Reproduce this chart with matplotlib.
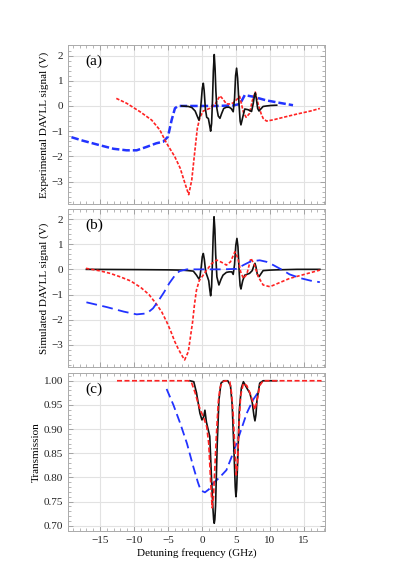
import numpy as np
import matplotlib.pyplot as plt
from matplotlib.ticker import MultipleLocator, AutoMinorLocator

plt.rcParams['font.family'] = ['Liberation Serif', 'DejaVu Serif']
plt.rcParams['axes.unicode_minus'] = True

# ---- panel (a): experimental DAVLL signal ----
a_black_x = [-3.0, -2.0, -1.5, -1.0, -0.7, -0.45, -0.3, -0.1, 0.05, 0.2, 0.33, 0.5, 0.7, 0.95,
             1.15, 1.28, 1.42, 1.55, 1.68, 1.81, 1.93, 2.05, 2.2, 2.4, 2.65, 2.9, 3.2, 3.6, 4.0,
             4.3, 4.6, 4.8, 4.95, 5.1, 5.25, 5.45, 5.62, 5.74, 6.0, 6.3, 6.8, 7.3, 7.55, 7.72,
             7.85, 8.0, 8.2, 8.4, 9.0, 9.5, 10.2, 11.0]
a_black_y = [0.0, -0.02, -0.06, -0.2, -0.4, -0.56, -0.4, 0.2, 0.7, 0.9, 0.6, -0.1, -0.45, -0.5,
             -0.8, -1.0, -0.7, 0.2, 1.4, 2.04, 1.5, 0.6, -0.1, -0.4, -0.49, -0.3, -0.1, -0.05, -0.05,
             -0.1, -0.23, 0.3, 1.2, 1.5, 1.1, 0.1, -0.6, -0.75, -0.45, -0.12, -0.15, -0.22, 0.1, 0.4,
             0.52, 0.3, -0.1, -0.2, -0.02, 0.0, 0.02, 0.03]
a_red_x = [-12.6, -11.1, -9.1, -7.4, -6.2, -5.2, -4.0, -3.2, -2.5, -1.95, -1.5, -1.03, -0.68, -0.3,
           0.2, 1.2, 2.0, 2.65, 3.1, 3.6, 4.1, 4.6, 5.1, 5.55, 6.1, 6.5, 7.0, 7.4, 7.85, 8.3,
           8.7, 9.0, 9.5, 10.5, 12.0, 14.0, 16.0, 17.35]
a_red_y = [0.30, 0.11, -0.23, -0.56, -0.95, -1.48, -2.01, -2.47, -3.07, -3.52, -2.94, -1.75, -0.89, -0.45,
           -0.2, -0.09, 0.1, 0.4, 0.27, 0.08, 0.08, 0.12, 0.25, 0.38, -0.25, -0.45, -0.3, 0.2, 0.55, 0.04,
           -0.3, -0.49, -0.6, -0.55, -0.45, -0.32, -0.2, -0.1]
a_blue_x = [-19.2, -17.5, -15.0, -13.0, -11.1, -9.6, -8.1, -6.7, -5.7, -5.0, -4.46, -3.97, -3.5,
            -2.0, 0.0, 2.0, 4.6, 5.6, 6.3, 7.5, 9.5, 11.5, 13.4]
a_blue_y = [-1.24, -1.38, -1.56, -1.7, -1.76, -1.76, -1.62, -1.48, -1.42, -1.22, -0.56, -0.09, 0.0,
            0.0, 0.0, 0.0, 0.02, 0.08, 0.43, 0.37, 0.22, 0.12, 0.03]

# ---- panel (b): simulated DAVLL signal ----
b_black_x = [-17.0, -10.0, -5.0, -3.0, -2.0, -1.27, -0.8, -0.45, -0.3, -0.1, 0.05, 0.2, 0.35, 0.55,
             0.8, 1.0, 1.15, 1.28, 1.42, 1.52, 1.65, 1.78, 1.9, 2.02, 2.2, 2.5, 2.8, 3.1, 3.6,
             4.0, 4.4, 4.6, 4.8, 4.98, 5.15, 5.3, 5.5, 5.62, 5.74, 6.0, 6.3, 7.0, 7.4, 7.65,
             7.8, 7.95, 8.15, 8.4, 9.0, 10.0, 11.0, 14.0, 17.35]
b_black_y = [0.0, -0.01, -0.02, -0.03, -0.05, -0.07, -0.23, -0.38, -0.3, 0.1, 0.5, 0.63, 0.4, -0.1,
             -0.29, -0.45, -0.8, -1.05, -0.7, 0.1, 1.3, 2.09, 1.6, 0.6, -0.3, -0.62, -0.4, -0.23, -0.12,
             -0.1, -0.1, -0.2, 0.2, 0.95, 1.23, 0.9, -0.2, -0.65, -0.78, -0.45, -0.23, -0.16, -0.05, 0.15,
             0.24, 0.1, -0.2, -0.29, -0.05, -0.03, -0.02, 0.0, 0.0]
b_red_x = [-17.06, -15.0, -13.5, -12.0, -10.5, -9.0, -7.8, -6.7, -5.9, -5.2, -4.6, -4.0, -3.5, -3.0,
           -2.55, -2.0, -1.7, -1.37, -1.1, -0.8, -0.4, 0.0, 0.7, 1.4, 2.16, 2.9, 3.6, 4.2, 4.85,
           5.3, 5.7, 6.1, 6.6, 7.2, 7.7, 8.3, 9.0, 10.0, 11.5, 12.9, 14.4, 16.0, 17.35]
b_red_y = [0.04, -0.06, -0.16, -0.3, -0.46, -0.72, -1.0, -1.38, -1.7, -2.08, -2.45, -2.87, -3.15, -3.4,
           -3.6, -3.27, -2.7, -2.08, -1.4, -0.82, -0.45, -0.3, -0.03, 0.22, 0.37, 0.28, 0.17, 0.3, 0.7,
           0.44, -0.1, -0.36, -0.2, 0.44, 0.2, -0.3, -0.62, -0.69, -0.52, -0.36, -0.25, -0.13, -0.03]
b_blue_x = [-17.0, -14.0, -11.5, -9.6, -8.1, -7.2, -6.4, -5.6, -4.8, -4.0, -3.3, -2.2, 0.0, 3.0,
            5.1, 6.1, 7.2, 8.5, 9.5, 10.5, 11.8, 12.9, 14.5, 16.0, 17.35]
b_blue_y = [-1.31, -1.5, -1.68, -1.79, -1.75, -1.55, -1.25, -0.92, -0.55, -0.25, -0.07, 0.0, 0.0, 0.0,
            0.02, 0.17, 0.32, 0.36, 0.3, 0.17, -0.02, -0.2, -0.35, -0.45, -0.51]

# ---- panel (c): transmission ----
c_black_x = [-1.76, -1.2, -0.8, -0.5, -0.3, 0.0, 0.25, 0.44, 0.65, 0.93, 1.15, 1.4, 1.6, 1.72,
             1.81, 1.9, 2.0, 2.25, 2.5, 2.8, 3.2, 3.8, 4.2, 4.45, 4.7, 4.9, 5.0, 5.1, 5.25, 5.5,
             5.8, 6.1, 6.6, 7.06, 7.4, 7.65, 7.8, 7.95, 8.1, 8.5, 9.0, 11.0]
c_black_y = [1.0, 0.998, 0.975, 0.95, 0.933, 0.919, 0.925, 0.939, 0.915, 0.898, 0.885, 0.8, 0.74, 0.713,
             0.705, 0.713, 0.74, 0.87, 0.96, 0.995, 1.0, 1.0, 0.99, 0.95, 0.86, 0.78, 0.76, 0.775, 0.83, 0.94,
             0.985, 0.998, 0.985, 0.974, 0.955, 0.928, 0.917, 0.93, 0.96, 0.995, 1.0, 1.0]
c_red_x = [-12.5, -5.0, -2.0, -1.5, -1.0, -0.6, -0.2, 0.2, 0.7, 1.0, 1.25, 1.5, 1.7, 1.9,
           2.1, 2.4, 2.65, 3.0, 3.5, 4.1, 4.35, 4.6, 4.85, 5.05, 5.25, 5.45, 5.7, 6.1, 6.6, 7.06,
           7.4, 7.8, 8.2, 8.5, 9.0, 12.0, 17.6]
c_red_y = [1.0, 1.0, 1.0, 0.995, 0.975, 0.955, 0.938, 0.926, 0.905, 0.87, 0.8, 0.737, 0.76, 0.82,
           0.88, 0.955, 0.985, 0.998, 1.0, 0.998, 0.975, 0.93, 0.86, 0.805, 0.83, 0.91, 0.97, 0.995, 0.99, 0.975,
           0.96, 0.94, 0.965, 0.99, 1.0, 1.0, 1.0]
c_blue_x = [-5.2, -4.2, -3.2, -2.2, -1.27, -0.6, -0.3, 0.0, 0.44, 1.0, 1.66, 2.6, 3.6, 4.3,
            5.1, 5.8, 6.6, 7.5, 8.5]
c_blue_y = [0.983, 0.95, 0.912, 0.87, 0.822, 0.79, 0.778, 0.772, 0.769, 0.775, 0.788, 0.8, 0.815, 0.84,
            0.871, 0.9, 0.933, 0.96, 0.981]

BLACK = '#111111'
RED = '#ff2222'
BLUE = '#2233ff'

fig = plt.figure(figsize=(4.15, 5.88), dpi=100)
left, width = 0.164, 0.619
ax_a = fig.add_axes([left, 0.6531, width, 0.2704])
ax_b = fig.add_axes([left, 0.3759, width, 0.2687])
ax_c = fig.add_axes([left, 0.0969, width, 0.2687])


def style(ax):
    ax.set_xlim(-19.7, 18.1)
    ax.xaxis.set_major_locator(MultipleLocator(5))
    ax.xaxis.set_minor_locator(AutoMinorLocator(5))
    ax.yaxis.set_minor_locator(AutoMinorLocator(5))
    ax.grid(True, which='major', color='#e2e2e2', lw=0.8)
    ax.set_axisbelow(True)
    for s in ax.spines.values():
        s.set_color('#aaaaaa')
        s.set_linewidth(0.7)
    ax.tick_params(which='both', direction='in', top=True, right=True,
                   colors='#999999', labelcolor='#222222', labelsize=8)
    ax.tick_params(which='major', length=3.5, width=0.6)
    ax.tick_params(which='minor', length=2, width=0.5)


# (a)
ax_a.plot(a_blue_x, a_blue_y, color=BLUE, lw=1.8, dashes=(3, 1.2))
ax_a.plot(a_red_x, a_red_y, color=RED, lw=1.2, dashes=(2, 1))
ax_a.plot(a_black_x, a_black_y, color=BLACK, lw=1.2)
style(ax_a)
ax_a.set_ylim(-3.89, 2.42)
ax_a.yaxis.set_major_locator(MultipleLocator(1))
ax_a.tick_params(labelbottom=False)
ax_a.set_ylabel('Experimental DAVLL signal (V)', fontsize=8, labelpad=2)
ax_a.text(0.066, 0.895, '(a)', transform=ax_a.transAxes, fontsize=11, va='center')

# (b)
ax_b.plot(b_black_x, b_black_y, color=BLACK, lw=1.2)
ax_b.plot(b_red_x, b_red_y, color=RED, lw=1.2, dashes=(2, 1.2))
ax_b.plot(b_blue_x, b_blue_y, color=BLUE, lw=1.3, dashes=(6, 3))
style(ax_b)
ax_b.set_ylim(-3.88, 2.4)
ax_b.yaxis.set_major_locator(MultipleLocator(1))
ax_b.tick_params(labelbottom=False)
ax_b.set_ylabel('Simulated DAVLL signal (V)', fontsize=8, labelpad=2)
ax_b.text(0.066, 0.895, '(b)', transform=ax_b.transAxes, fontsize=11, va='center')

# (c)
ax_c.plot(c_blue_x, c_blue_y, color=BLUE, lw=1.3, dashes=(5, 2.5))
ax_c.plot(c_black_x, c_black_y, color=BLACK, lw=1.2)
ax_c.plot(c_red_x, c_red_y, color=RED, lw=1.2, dashes=(3, 1.5))
style(ax_c)
ax_c.set_ylim(0.689, 1.016)
ax_c.yaxis.set_major_locator(MultipleLocator(0.05))
ax_c.yaxis.set_major_formatter(plt.FormatStrFormatter('%.2f'))
ax_c.set_ylabel('Transmission', fontsize=8, labelpad=2)
ax_c.set_xlabel('Detuning frequency (GHz)', fontsize=8, labelpad=2)
ax_c.text(0.066, 0.895, '(c)', transform=ax_c.transAxes, fontsize=11, va='center')

fig.savefig('out.png', dpi=100)
